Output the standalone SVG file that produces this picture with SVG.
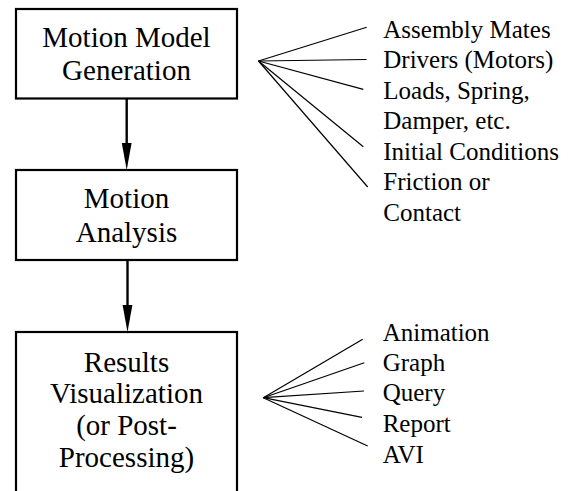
<svg xmlns="http://www.w3.org/2000/svg" width="578" height="491" viewBox="0 0 578 491">
<rect width="578" height="491" fill="#fff"/>
<g id="connectors" stroke="#000" fill="none">
<g id="flow-arrows" stroke-width="2.4">
<line x1="126.7" y1="98" x2="126.7" y2="143"/>
<path d="M121.8,143 L131.6,143 L126.7,170 Z" fill="#000" stroke="none"/>
<line x1="127.5" y1="260" x2="127.5" y2="305"/>
<path d="M122.6,305 L132.4,305 L127.5,332 Z" fill="#000" stroke="none"/>
</g>
<g id="fan-top" stroke-width="1.2">
<line x1="258.5" y1="61" x2="366.7" y2="27.3"/>
<line x1="258.5" y1="61" x2="366.5" y2="59.5"/>
<line x1="258.5" y1="61" x2="363.3" y2="89.3"/>
<line x1="258.5" y1="61" x2="363.3" y2="146.7"/>
<line x1="258.5" y1="61" x2="367.7" y2="187"/>
</g>
<g id="fan-bottom" stroke-width="1.2">
<line x1="263.3" y1="397.7" x2="362.7" y2="339.3"/>
<line x1="263.3" y1="397.7" x2="364.3" y2="362.7"/>
<line x1="263.3" y1="397.7" x2="364" y2="391"/>
<line x1="263.3" y1="397.7" x2="362" y2="417.3"/>
<line x1="263.3" y1="397.7" x2="367.7" y2="446"/>
</g>
</g>
<g id="node-generation">
<rect x="16" y="9" width="221" height="89.5" fill="#fff" stroke="#000" stroke-width="2.2"/>
<g font-family="Liberation Serif, serif" font-size="29" text-anchor="middle">
<text x="126.5" y="47" font-family="Liberation Serif">Motion Model</text>
<text x="126.5" y="80" font-family="Liberation Serif">Generation</text>
</g>
</g>
<g id="node-analysis">
<rect x="16" y="170" width="221" height="90" fill="#fff" stroke="#000" stroke-width="2.2"/>
<g font-family="Liberation Serif, serif" font-size="29" text-anchor="middle">
<text x="126.5" y="208.3" font-family="Liberation Serif">Motion</text>
<text x="126.5" y="241.7" font-family="Liberation Serif">Analysis</text>
</g>
</g>
<g id="node-results">
<rect x="16" y="332" width="221" height="170" fill="#fff" stroke="#000" stroke-width="2.2"/>
<g font-family="Liberation Serif, serif" font-size="29" text-anchor="middle">
<text x="126.5" y="371.7" font-family="Liberation Serif">Results</text>
<text x="126.5" y="403.3" font-family="Liberation Serif">Visualization</text>
<text x="126.5" y="435" font-family="Liberation Serif">(or Post-</text>
<text x="126.5" y="466.7" font-family="Liberation Serif">Processing)</text>
</g>
</g>
<g id="node-inputs">
<g font-family="Liberation Serif, serif" font-size="25">
<text x="383.3" y="37.5" font-family="Liberation Serif">Assembly Mates</text>
<text x="383.3" y="68" font-family="Liberation Serif">Drivers (Motors)</text>
<text x="383.3" y="98.5" font-family="Liberation Serif">Loads, Spring,</text>
<text x="383.3" y="129" font-family="Liberation Serif">Damper, etc.</text>
<text x="383.3" y="160" font-family="Liberation Serif">Initial Conditions</text>
<text x="383.3" y="190" font-family="Liberation Serif">Friction or</text>
<text x="383.3" y="221" font-family="Liberation Serif">Contact</text>
</g>
</g>
<g id="node-outputs">
<g font-family="Liberation Serif, serif" font-size="25">
<text x="382.7" y="340.7" font-family="Liberation Serif">Animation</text>
<text x="382.7" y="371" font-family="Liberation Serif">Graph</text>
<text x="382.7" y="401.3" font-family="Liberation Serif">Query</text>
<text x="382.7" y="432.3" font-family="Liberation Serif">Report</text>
<text x="382.7" y="462.7" font-family="Liberation Serif">AVI</text>
</g>
</g>
</svg>
